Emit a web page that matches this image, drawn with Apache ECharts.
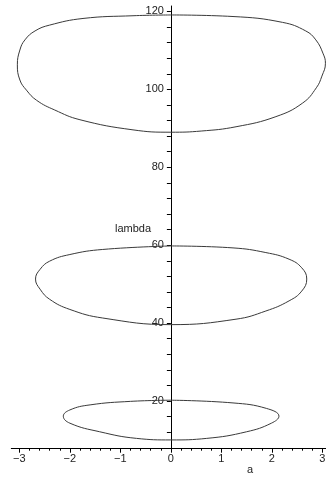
<!DOCTYPE html>
<html>
<head>
<meta charset="utf-8">
<title>lambda vs a</title>
<script src="https://cdn.jsdelivr.net/npm/echarts@6/dist/echarts.min.js"></script>
<style>
  html, body { margin: 0; padding: 0; background: #fff; }
  #chart { width: 326px; height: 477px; }
</style>
</head>
<body>
<div id="chart"></div>
<script>
// Closed level curves in the (a, lambda) plane, traced as [a, lambda] pairs.
// Each loop starts and ends at its topmost point, where the curve runs flat.
const upperLoop = [
  [0, 119.1], [1.23, 118.7], [2.21, 117.2], [2.67, 115.0], [2.87, 112.7],
  [3.01, 109.3], [3.06, 106.7], [2.99, 103.4], [2.88, 100.4], [2.61, 96.5],
  [2.08, 93.0], [1.29, 90.4], [0.6, 89.3], [0, 89.0], [-0.75, 89.6],
  [-1.80, 92.2], [-2.30, 94.7], [-2.66, 97.2], [-2.86, 99.8], [-2.99, 102.4],
  [-3.04, 106.3], [-2.99, 110.1], [-2.89, 112.7], [-2.69, 115.0], [-2.40, 116.5],
  [-1.74, 118.2], [-0.75, 118.9], [0, 119.1]
];
const middleLoop = [
  [0, 59.8], [1.23, 59.3], [1.88, 58.1], [2.34, 56.4], [2.59, 54.2],
  [2.69, 51.3], [2.59, 48.2], [2.34, 45.7], [1.88, 43.1], [1.29, 41.0],
  [0, 39.6], [-1.35, 41.3], [-2.00, 43.5], [-2.40, 46.1], [-2.59, 48.7],
  [-2.68, 51.3], [-2.59, 53.8], [-2.40, 55.9], [-2.00, 57.6], [-1.35, 58.9],
  [0, 59.8]
];
const lowerLoop = [
  [0, 20.2], [1.23, 19.5], [1.89, 18.1], [2.14, 16.1], [1.99, 14.3],
  [1.50, 12.1], [0.71, 10.4], [0, 10.0], [-0.68, 10.4], [-1.41, 12.1],
  [-2.00, 14.3], [-2.13, 16.1], [-2.00, 17.7], [-1.60, 19.0], [-0.80, 19.9],
  [0, 20.2]
];

// Tick labels
const aTicks = [-3, -2, -1, 0, 1, 2, 3];
const lambdaTicks = [20, 40, 60, 80, 100, 120];

// View window
const aMin = -3.16, aMax = 3.2;
const lambdaMin = 7.75, lambdaMax = 121.4;

// Minor tick positions
const aMinor = [];
for (let i = -15; i <= 15; i++) aMinor.push(i / 5);
const lambdaMinor = [];
for (let v = 12; v <= 120; v += 4) lambdaMinor.push(v);

const FONT = "'Liberation Sans', Arial, Helvetica, sans-serif";
const INK = '#222';
const fmtMinus = v => String(v).replace('-', '\u2212');

// Plot area geometry (pixels)
const GRID_LEFT = 11.3, GRID_TOP = 6, GRID_W = 321.2, GRID_H = 442.7;
// Horizontal pixel offset of a = 0 from the grid's left edge
const zeroOffset = GRID_W * (0 - aMin) / (aMax - aMin);

const chart = echarts.init(document.getElementById('chart'), null, { renderer: 'canvas' });

function loop(data) {
  return {
    type: 'line',
    data: data,
    smooth: 0.45,
    showSymbol: false,
    symbol: 'none',
    silent: true,
    lineStyle: { color: '#3a3a3a', width: 1 },
    xAxisIndex: 0,
    yAxisIndex: 0
  };
}

chart.setOption({
  backgroundColor: '#ffffff',
  animation: false,
  grid: {
    left: GRID_LEFT, top: GRID_TOP, width: GRID_W, height: GRID_H,
    containLabel: false, outerBoundsMode: 'none'
  },
  xAxis: [
    {
      type: 'value', min: aMin, max: aMax, position: 'bottom',
      axisLine: { show: true, onZero: false, lineStyle: { color: '#000', width: 1 } },
      axisTick: { show: true, customValues: aTicks, length: 4, lineStyle: { color: '#000' } },
      axisLabel: {
        customValues: aTicks, margin: 5, color: INK, fontSize: 11, fontFamily: FONT,
        formatter: fmtMinus
      },
      splitLine: { show: false }
    },
    {
      type: 'value', min: aMin, max: aMax, position: 'bottom',
      axisLine: { show: false, onZero: false },
      axisTick: { show: true, customValues: aMinor, length: 2, lineStyle: { color: '#000' } },
      axisLabel: { show: false },
      splitLine: { show: false }
    }
  ],
  yAxis: [
    {
      type: 'value', min: lambdaMin, max: lambdaMax, position: 'left',
      offset: -zeroOffset,
      axisLine: { show: true, onZero: false, lineStyle: { color: '#000', width: 1 } },
      axisTick: { show: true, customValues: lambdaMinor, length: 4, lineStyle: { color: '#000' } },
      axisLabel: {
        customValues: lambdaTicks, margin: 7, color: INK, fontSize: 11, fontFamily: FONT
      },
      splitLine: { show: false }
    }
  ],
  graphic: [
    { type: 'text', left: 115, top: 223, silent: true,
      style: { text: 'lambda', fill: INK, font: '11px ' + FONT } },
    { type: 'text', left: 247, top: 464, silent: true,
      style: { text: 'a', fill: INK, font: '11px ' + FONT } }
  ],
  series: [loop(upperLoop), loop(middleLoop), loop(lowerLoop)]
});
</script>
</body>
</html>
